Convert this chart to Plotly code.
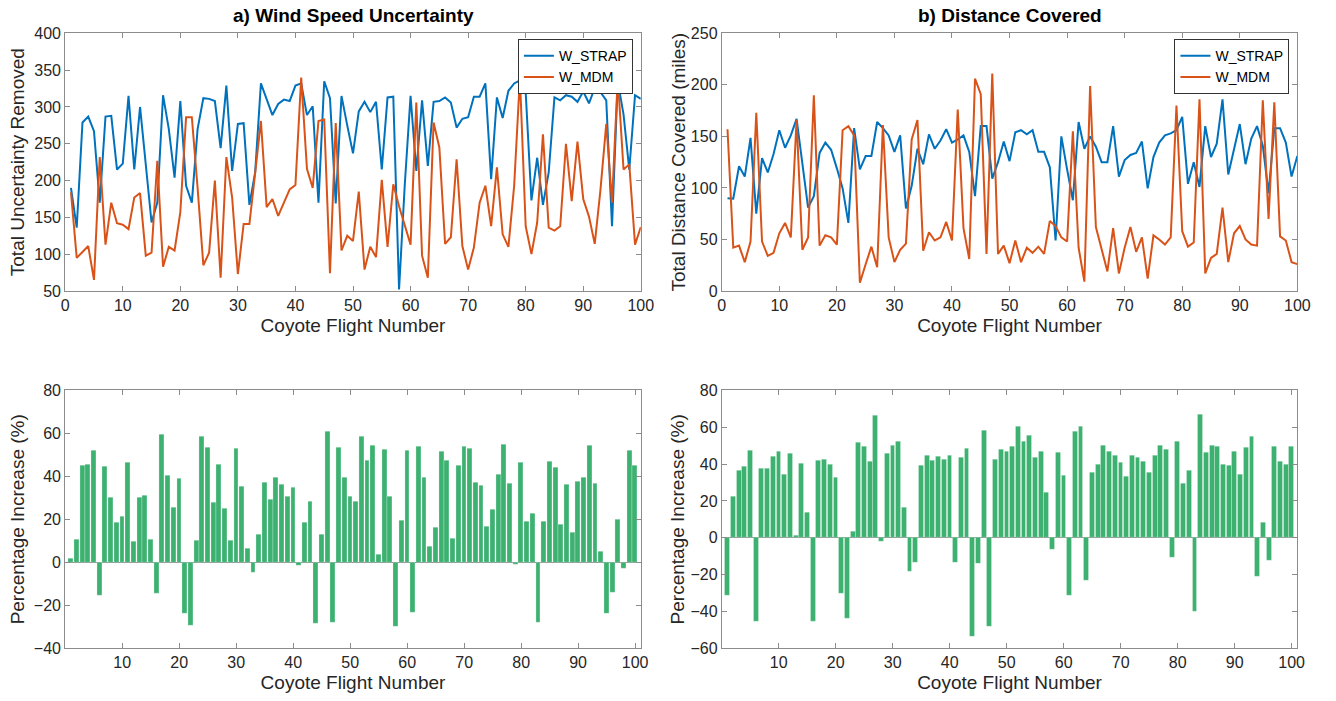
import plotly.graph_objects as go

FLIGHT = list(range(1, 101))

STRAP_A = [190, 136, 279, 287, 267, 170, 287, 288, 215, 223,
           315, 215, 300, 220, 143, 170, 316, 270, 204, 308,
           193, 170, 270, 312, 311, 308, 244, 329, 213, 277,
           278, 167, 211, 332, 310, 289, 304, 310, 308, 329,
           332, 289, 301, 170, 335, 312, 169, 315, 275, 237,
           294, 307, 293, 307, 215, 313, 314, 52, 195, 315,
           213, 309, 220, 307, 308, 313, 306, 272, 284, 286,
           314, 314, 332, 202, 313, 285, 322, 332, 336, 320,
           173, 231, 167, 211, 313, 309, 316, 314, 307, 321,
           305, 326, 320, 309, 138, 335, 290, 215, 316, 311]

MDM_A = [184, 95, 103, 111, 65, 232, 113, 170, 142, 140,
         134, 177, 183, 98, 102, 227, 83, 110, 105, 157,
         286, 286, 190, 85, 102, 200, 68, 232, 177, 73,
         141, 141, 210, 281, 164, 175, 152, 170, 188, 194,
         340, 216, 190, 281, 283, 74, 278, 105, 125, 118,
         185, 79, 110, 96, 201, 110, 195, 165, 140, 113,
         306, 98, 68, 279, 245, 114, 123, 229, 111, 79,
         109, 170, 193, 138, 218, 127, 110, 193, 340, 138,
         100, 143, 263, 136, 132, 138, 250, 172, 253, 175,
         151, 114, 188, 277, 170, 340, 215, 222, 113, 137]

STRAP_B = [90, 89.5, 121, 111, 148.5, 75, 129, 115, 133, 156,
           139, 151, 167, 125, 81, 92, 134, 144, 137, 119,
           99.5, 66, 158, 118, 131, 131, 164, 158, 151, 135,
           151, 80, 102, 138, 123, 152, 138, 146, 157, 144,
           147, 151, 135, 92, 160, 160, 109, 125, 145, 126,
           154, 156, 152, 156, 135, 135, 120, 49, 150, 118,
           88, 164, 138, 150, 140, 125, 125, 160, 111, 127,
           132, 134, 145, 99.5, 130, 144, 151, 153, 156, 169,
           104, 125, 101, 160, 130, 143, 186, 113, 137, 162,
           123, 148, 160, 141, 95, 158, 158, 144, 111, 131]

MDM_B = [157, 42, 44, 28, 48, 173, 48, 34, 37, 56,
         66, 52, 166, 40, 52, 190, 44, 54, 52, 45,
         156, 160, 151, 8, 26, 43, 23, 161, 52, 28,
         40, 46, 147, 166, 39, 57, 49, 52, 67, 49,
         176, 61, 31, 206, 191, 36, 211, 36, 44, 27,
         49, 28, 42, 37, 43, 36, 68, 63, 52, 48,
         155, 42, 9, 199, 62, 40, 19, 61, 17, 42,
         62, 38, 52, 12, 54, 50, 45, 52, 180, 58,
         43, 47, 186, 17, 32, 36, 81, 28, 56, 63,
         50, 45, 44, 185, 70, 183, 53, 49, 28, 26]

PCT_A = [1.7, 10.7, 45, 45.3, 52, -15.7, 44.5, 30.2, 18.7, 21.5,
         46.4, 9.8, 30.2, 31.1, 10.4, -14.5, 59.6, 40.6, 25.7, 38.9,
         -23.8, -29.7, 10, 58.4, 53.5, 27.9, 45.6, 25, 10, 52.8,
         35.2, 6.4, -4.8, 12.9, 37, 29, 39.4, 36.4, 30.7, 34.7,
         -1.4, 18.5, 28.2, -28.5, 13.1, 60.9, -28.2, 53.5, 39.4, 30.4,
         28.5, 58.7, 47.3, 54.3, 3.6, 52.3, 30.7, -30, 19.6, 52,
         -23.5, 54, 39.4, 7.2, 16.2, 51.8, 47.2, 11, 45, 53.7,
         52.9, 37, 35.8, 16.7, 24.4, 40.9, 54.9, 36.6, -1.1, 46.5,
         18.8, 22.6, -28.2, 19.1, 47, 44.2, 17.4, 36.4, 14, 37.8,
         39.7, 54.6, 36.9, 5.1, -24, -14, 20, -3, 52, 45]

PCT_B = [-31.5, 22.5, 36.4, 38.7, 47.3, -45.8, 37.6, 37.6, 44.4, 47.1,
         34.4, 45.8, 1.3, 40.2, 13.6, -45.8, 42.2, 42.7, 39.8, 32.9,
         -30.4, -44, 3.5, 51.6, 49.8, 41.5, 66.5, -1.8, 45.8, 50,
         52.5, 16.4, -18.5, -13.3, 39.5, 44.9, 42.2, 44.2, 42.7, 44.7,
         -13.5, 43.6, 48.5, -53.6, -14.2, 58, -48.2, 42.4, 47.8, 47.1,
         49.3, 60.4, 52.4, 55.8, 43.6, 46.7, 24.5, -6.4, 46.5, 33.8,
         -31.3, 57.6, 60.7, -23.3, 35.5, 39.6, 50, 47.1, 44.5, 40.7,
         33.1, 44.7, 43.6, 41.6, 35.5, 44.5, 50.2, 47.8, -10.5, 52.2,
         29.5, 36.7, -40, 66.7, 46.4, 50, 49.8, 40, 39.1, 46.9,
         34.5, 48.9, 54.9, -21.1, 8.4, -12.2, 49.5, 41.5, 39.8, 49.8]

W, H = 1336, 701
BLUE = "#0072BD"
ORANGE = "#D95319"
GREEN = "rgb(60,177,112)"
AX = "#8c8c8c"
TXT = "#262626"
FONT = "Liberation Sans, Arial, sans-serif"

XL = [62 / W, 645 / W]
XR = [727 / W, 1310 / W]
YT = [1 - 290 / H, 1 - 26 / H]
YB = [1 - 656 / H, 1 - 392 / H]

fig = go.Figure()
fig.add_trace(go.Scatter(x=FLIGHT, y=STRAP_A, mode="lines", name="W_STRAP",
                         line=dict(color=BLUE, width=2), xaxis="x", yaxis="y", legend="legend"))
fig.add_trace(go.Scatter(x=FLIGHT, y=MDM_A, mode="lines", name="W_MDM",
                         line=dict(color=ORANGE, width=2), xaxis="x", yaxis="y", legend="legend"))
fig.add_trace(go.Scatter(x=FLIGHT, y=STRAP_B, mode="lines", name="W_STRAP",
                         line=dict(color=BLUE, width=2), xaxis="x2", yaxis="y2", legend="legend2"))
fig.add_trace(go.Scatter(x=FLIGHT, y=MDM_B, mode="lines", name="W_MDM",
                         line=dict(color=ORANGE, width=2), xaxis="x2", yaxis="y2", legend="legend2"))
fig.add_trace(go.Bar(x=FLIGHT, y=PCT_A, width=0.85,
                     marker=dict(color=GREEN, line=dict(width=0.5, color="rgba(255,255,255,0.5)")),
                     xaxis="x3", yaxis="y3", showlegend=False))
fig.add_trace(go.Bar(x=FLIGHT, y=PCT_B, width=0.85,
                     marker=dict(color=GREEN, line=dict(width=0.5, color="rgba(255,255,255,0.5)")),
                     xaxis="x4", yaxis="y4", showlegend=False))


def axstyle(**kw):
    d = dict(showline=True, linecolor=AX, linewidth=1, mirror="ticks", ticks="inside",
             ticklen=5, tickcolor=AX, tickwidth=1, showgrid=False, zeroline=False,
             tickfont=dict(size=16, color=TXT, family=FONT),
             title_font=dict(size=19, color=TXT, family=FONT))
    d.update(kw)
    return d


LEG = dict(bgcolor="white", bordercolor="#333333", borderwidth=1,
           font=dict(size=14, color="black", family=FONT), tracegroupgap=0,
           itemwidth=30, yanchor="top", xanchor="right")

fig.update_layout(
    width=W, height=H,
    margin=dict(l=0, r=0, t=0, b=0),
    paper_bgcolor="white", plot_bgcolor="white",
    font=dict(family=FONT, color=TXT),
    bargap=0,
    xaxis=axstyle(domain=XL, anchor="y", range=[0, 100], dtick=10, tick0=0,
                  title=dict(text="Coyote Flight Number", standoff=5)),
    yaxis=axstyle(domain=YT, anchor="x", range=[50, 400], dtick=50,
                  title=dict(text="Total Uncertainty Removed", standoff=4)),
    xaxis2=axstyle(domain=XR, anchor="y2", range=[0, 100], dtick=10, tick0=0,
                   title=dict(text="Coyote Flight Number", standoff=5)),
    yaxis2=axstyle(domain=YT, anchor="x2", range=[0, 250], dtick=50,
                   title=dict(text="Total Distance Covered (miles)", standoff=0)),
    xaxis3=axstyle(domain=XL, anchor="y3", range=[0, 101], tickvals=list(range(10, 101, 10)),
                   title=dict(text="Coyote Flight Number", standoff=5)),
    yaxis3=axstyle(domain=YB, anchor="x3", range=[-40, 80], dtick=20,
                   zeroline=True, zerolinecolor=AX, zerolinewidth=1,
                   title=dict(text="Percentage Increase (%)", standoff=4)),
    xaxis4=axstyle(domain=XR, anchor="y4", range=[0, 101], tickvals=list(range(10, 101, 10)),
                   title=dict(text="Coyote Flight Number", standoff=5)),
    yaxis4=axstyle(domain=YB, anchor="x4", range=[-60, 80], dtick=20,
                   zeroline=True, zerolinecolor=AX, zerolinewidth=1,
                   title=dict(text="Percentage Increase (%)", standoff=0)),
    legend=dict(x=(645 - 8) / W, y=1 - 32 / H, **LEG),
    legend2=dict(x=(1310 - 8) / W, y=1 - 32 / H, **LEG),
    annotations=[
        dict(text="<b>a) Wind Speed Uncertainty</b>", x=(XL[0] + XL[1]) / 2, y=1 - 8 / H,
             xref="paper", yref="paper", showarrow=False, xanchor="center", yanchor="middle",
             font=dict(size=19, color="black", family=FONT)),
        dict(text="<b>b) Distance Covered</b>", x=(XR[0] + XR[1]) / 2, y=1 - 8 / H,
             xref="paper", yref="paper", showarrow=False, xanchor="center", yanchor="middle",
             font=dict(size=19, color="black", family=FONT)),
    ],
)

fig.write_html("out.html")
